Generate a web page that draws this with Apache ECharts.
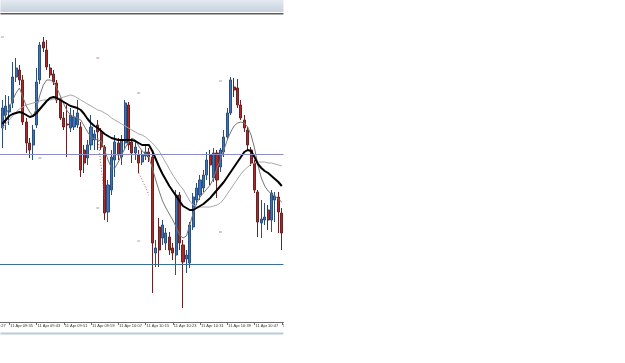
<!DOCTYPE html>
<html><head><meta charset="utf-8">
<script src="https://cdn.jsdelivr.net/npm/echarts@6/dist/echarts.min.js"></script>
<style>html,body{margin:0;padding:0;background:#fff;overflow:hidden;width:625px;height:363px;position:relative}#c{position:absolute;top:0;height:363px}</style>
</head><body><div id="c"></div>
<script>
// 1-minute candles, 11 Apr 09:27 .. 10:55 (first 6 minutes lie left of the visible window)
const startHour = 9, startMinute = 27, totalCategories = 89, hiddenLead = 6;
const categories = [];
for (let i = 0; i < totalCategories; i++) {
  const m = startHour * 60 + startMinute + i;
  categories.push('11 Apr ' + String(Math.floor(m / 60)).padStart(2, '0') + ':' + String(m % 60).padStart(2, '0'));
}
// prices in points above 1.31000
const opens = [194,207,210,219,245,252,242,200,179,177,197,242,280,272,254,248,239,222,204,198,194,195,197,195,172,164,177,182,197,189,175,110,132,162,179,165,179,217,180,169,167,160,166,170,165,69,95,84,79,85,74,67,127,77,63,59,95,122,127,134,147,167,144,169,155,170,185,209,235,234,217,202,192,172,159,130,99,102,112,102,122,125,109];
const closes = [214,216,217,245,254,242,200,179,172,192,240,277,274,255,247,240,222,204,195,197,207,205,209,152,159,177,195,188,190,175,109,137,165,180,167,182,219,177,169,175,159,167,170,165,79,74,72,97,89,72,69,127,79,60,67,97,125,134,142,147,162,157,169,142,172,185,209,242,232,217,204,194,177,159,132,100,103,105,102,129,126,110,89];
const lows = [174,192,197,214,240,237,197,169,164,162,194,238,270,252,244,237,219,202,192,165,190,192,194,145,149,157,172,172,172,172,102,100,127,145,162,157,172,172,159,162,149,157,162,160,29,55,55,77,72,67,62,47,72,14,49,54,92,117,122,130,142,137,140,124,150,165,182,207,225,214,202,190,172,156,129,85,84,97,92,90,100,89,72];
const highs = [222,227,226,260,264,257,247,204,184,197,254,280,285,282,258,252,242,224,210,217,214,212,222,200,177,182,207,192,202,194,177,142,172,187,184,187,222,220,184,182,172,172,176,174,170,82,104,102,94,90,79,132,130,82,72,100,129,139,147,152,170,172,174,172,174,192,214,245,244,243,222,207,195,175,162,132,122,119,117,132,130,130,114];
const maBlack = [198,202,206,208,209,210,209,207,205,206,209,213,217,221,224,225,224,222,220,218,216,215,214,212,208,203,199,196,194,191,188,186,184,183,182,182,182,182,182,181,179,177,177,177,171,163,155,148,142,136,131,126,121,116,114,112,112,114,116,118,121,124,128,132,136,140,145,150,155,160,165,170,172,171,165,158,154,151,149,146,143,140,136];
const maFast = [204,208,214,222,229,234,225,216,210,206,214,227,237,242,242,240,234,226,218,211,207,205,204,202,196,190,185,183,182,181,172,162,154,154,160,167,174,180,184,182,176,171,168,165,154,142,131,121,114,108,102,95,87,84,86,97,109,119,125,129,133,137,144,154,162,172,182,190,196,199,200,199,195,187,174,157,144,136,131,128,126,123,120];
const maSlow = [194,198,202,206,210,213,215,217,218,219,220,221,222,222,222,223,223,224,225,226,227,226,224,222,220,218,216,214,212,211,209,207,204,202,200,198,196,194,192,190,188,187,185,182,179,175,171,165,159,153,147,142,137,133,127,121,117,115,115,115,115,115,116,117,119,123,128,133,138,143,148,152,155,158,159,160,160,160,159,159,158,157,156];
const levelUpper = 168, levelLower = 58;
const trendA = {from: 28, values: [184,155,122]};
const trendB = {from: 40, values: [149,142,135,127]};
const markCandle = [0, 28, 40, 64, 11, 28, 40, 64];
const markValue  = [285, 264, 229, 241, 164, 114, 81, 90];
const markColor  = ['#c08040','#a07050','#a07050','#909090','#7080a0','#8080b0','#909090','#a07050'];

const pad = n => Array(n).fill('-');
const candleData = pad(hiddenLead).concat(opens.map((o, i) => [o, closes[i], lows[i], highs[i]]));
const lineData = arr => pad(hiddenLead).concat(arr);
const trendData = t => { const d = pad(hiddenLead + t.from); return d.concat(t.values).concat(pad(totalCategories - d.length - t.values.length)); };

const visibleWidth = 283;
const step = visibleWidth / (totalCategories - hiddenLead);
const shift = hiddenLead * step;
const el = document.getElementById('c');
el.style.left = (-shift) + 'px';
el.style.width = (625 + shift) + 'px';

const chart = echarts.init(el, null, {renderer: 'canvas'});
chart.setOption({
  animation: false,
  backgroundColor: '#ffffff',
  grid: {left: 0, width: totalCategories * step, top: 15, bottom: 41},
  xAxis: {
    type: 'category', data: categories, boundaryGap: true,
    axisLine: {lineStyle: {color: '#6a6a6a', width: 1}},
    axisTick: {show: true, interval: 7, alignWithLabel: true, length: 3, lineStyle: {color: '#6a6a6a'}},
    axisLabel: {interval: 7, align: 'left', fontSize: 4, color: '#333', margin: 2, padding: [0,0,0,1], fontFamily: 'Liberation Sans'},
    splitLine: {show: false}
  },
  yAxis: {type: 'value', min: 0, max: 307, show: false, splitLine: {show: false}},
  series: [
    {type: 'candlestick', data: candleData, barWidth: 2.6,
     itemStyle: {color: '#3f73b8', color0: '#a82a2a', borderColor: '#2a4f80', borderColor0: '#6a2222', borderWidth: 1},
     markLine: {silent: true, symbol: 'none', label: {show: false},
       data: [{yAxis: levelUpper, lineStyle: {color: '#8c8cc8', width: 1, type: 'solid'}},
              {yAxis: levelLower, lineStyle: {color: '#3a7096', width: 1, type: 'solid'}}]}},
    {type: 'line', data: lineData(maSlow), symbol: 'none', lineStyle: {color: '#a8a8a8', width: 1}, z: 3},
    {type: 'line', data: lineData(maFast), symbol: 'none', lineStyle: {color: '#777777', width: 1}, z: 3},
    {type: 'line', data: lineData(maBlack), symbol: 'none', lineStyle: {color: '#000000', width: 2}, z: 4},
    {type: 'line', data: trendData(trendA), symbol: 'none', lineStyle: {color: '#d05050', width: 1, type: [1, 2]}, z: 3},
    {type: 'line', data: trendData(trendB), symbol: 'none', lineStyle: {color: '#d05050', width: 1, type: [1, 2]}, z: 3},
    {type: 'scatter', symbol: 'rect', symbolSize: [3, 1], z: 5,
     data: markCandle.map((c, i) => ({value: [c + hiddenLead, markValue[i]], itemStyle: {color: markColor[i]}}))}
  ],
  graphic: [
    {type: 'rect', shape: {x: shift, y: 0, width: visibleWidth, height: 12},
     style: {fill: new echarts.graphic.LinearGradient(0, 0, 0, 1, [{offset: 0, color: '#e3e9f0'}, {offset: 1, color: '#c7d2de'}])}},
    {type: 'line', shape: {x1: shift, y1: 13.5, x2: shift + visibleWidth, y2: 13.5}, style: {stroke: '#5a5a5a', lineWidth: 1}},
    {type: 'line', shape: {x1: shift, y1: 14.5, x2: shift + visibleWidth, y2: 14.5}, style: {stroke: '#b0b0b0', lineWidth: 1}},
    {type: 'line', shape: {x1: shift, y1: 333.5, x2: shift + visibleWidth, y2: 333.5}, style: {stroke: '#b9cadb', lineWidth: 2}},
    {type: 'rect', z: 100, shape: {x: shift + visibleWidth + 0.5, y: 0, width: 400, height: 363}, style: {fill: '#ffffff'}}
  ]
});
</script></body></html>
